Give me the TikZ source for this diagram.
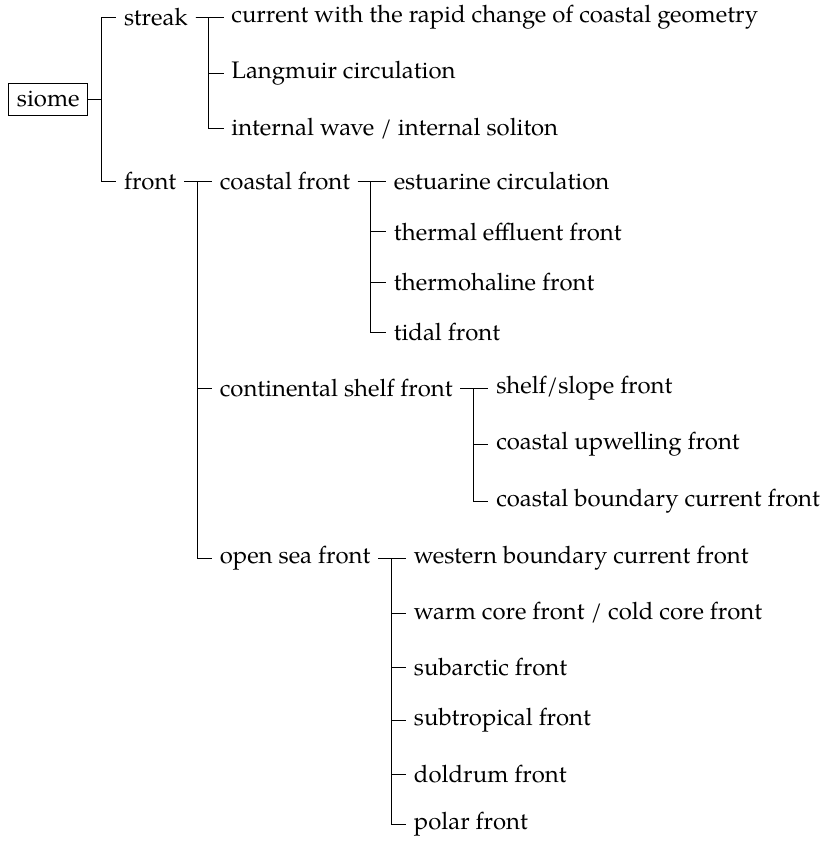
\documentclass[tikz,border=0pt]{standalone}
\usepackage{fontspec}
\setmainfont{TeX Gyre Pagella}
\newcommand\kid[4]{%
  \path (#2.east) ++(28,0) coordinate (#1-x);
  \coordinate (#1-y) at (0,#3);
  \node[tx,anchor=west] (#1) at (#1-x |- #1-y) {#4};
  \draw[ln] (#2.east) -- ++(13,0) |- (#1.west);
}
\begin{document}
\begin{tikzpicture}[x=0.4517pt,y=-0.4517pt,
  tx/.style={inner sep=0.3333em, font=\fontsize{10.8}{13}\selectfont},
  ln/.style={line width=0.4pt, draw=black}]
\useasboundingbox (0,0) rectangle (827,844);
\node[tx,draw,line width=0.4pt,anchor=west,minimum width=35.7pt,minimum height=14.6pt] (siome) at (8.3,99.5) {siome};
\kid{streak}{siome}{17.5}{streak}
\kid{front}{siome}{181.5}{front}
\kid{current}{streak}{17.5}{current with the rapid change of coastal geometry}
\kid{langmuir}{streak}{73.5}{Langmuir circulation}
\kid{internal}{streak}{128.5}{internal wave / internal soliton}
\kid{coastal}{front}{181.5}{coastal front}
\kid{shelf}{front}{388}{continental shelf front}
\kid{opensea}{front}{558}{open sea front}
\kid{estuarine}{coastal}{181.5}{estuarine circulation}
\kid{thermal}{coastal}{231.7}{thermal effluent front}
\kid{thermohaline}{coastal}{282}{thermohaline front}
\kid{tidal}{coastal}{332.5}{tidal front}
\kid{slope}{shelf}{388}{shelf/slope front}
\kid{upwelling}{shelf}{444.5}{coastal upwelling front}
\kid{boundary}{shelf}{501}{coastal boundary current front}
\kid{western}{opensea}{558}{western boundary current front}
\kid{warm}{opensea}{613}{warm core front / cold core front}
\kid{subarctic}{opensea}{667.5}{subarctic front}
\kid{subtropical}{opensea}{720}{subtropical front}
\kid{doldrum}{opensea}{774.5}{doldrum front}
\kid{polar}{opensea}{824.5}{polar front}
\end{tikzpicture}
\end{document}
